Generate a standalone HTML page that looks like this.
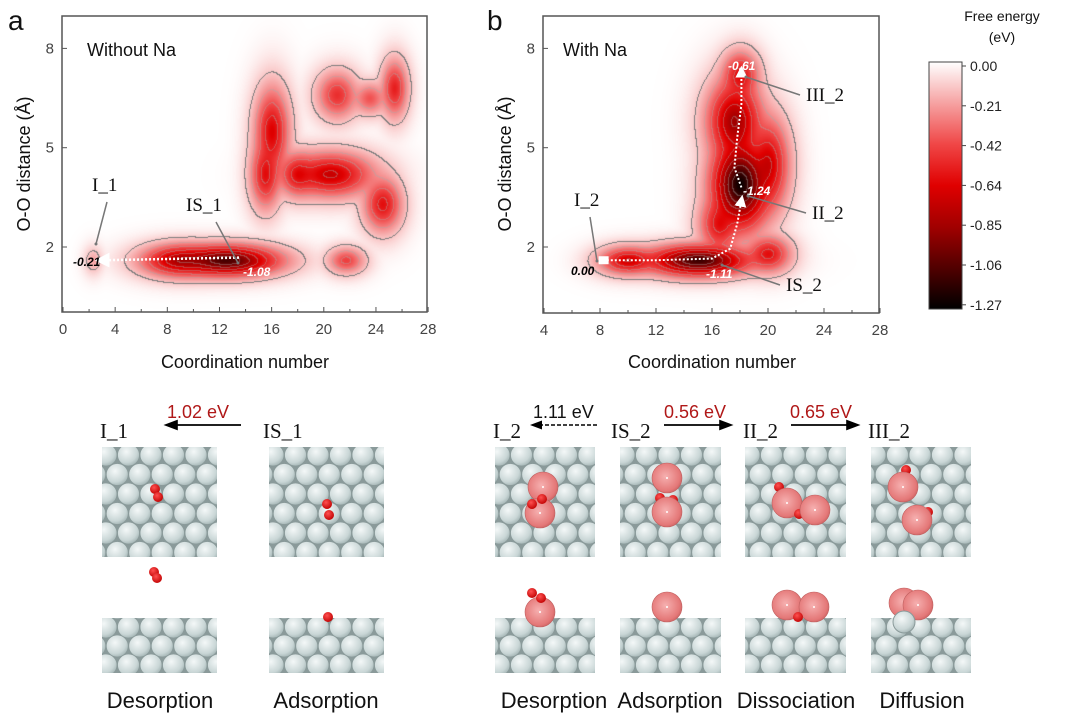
<!DOCTYPE html>
<html><head><meta charset="utf-8">
<style>
body{margin:0;background:#fff;width:1077px;height:725px;overflow:hidden;position:relative;font-family:"Liberation Sans",sans-serif}
canvas{position:absolute}
svg{position:absolute;left:0;top:0}
</style></head><body>
<canvas id="ca"></canvas>
<canvas id="cb"></canvas>
<svg id="s" width="1077" height="725">
<defs>
<linearGradient id="cbar" x1="0" y1="0" x2="0" y2="1">
<stop offset="0" stop-color="#ffffff"/><stop offset="0.165" stop-color="#f6a3a3"/><stop offset="0.33" stop-color="#f04848"/><stop offset="0.5" stop-color="#e00000"/><stop offset="0.67" stop-color="#a00000"/><stop offset="0.835" stop-color="#500000"/><stop offset="1" stop-color="#000000"/>
</linearGradient>
<radialGradient id="ag" cx="0.4" cy="0.35" r="0.7"><stop offset="0" stop-color="#f4f8f8"/><stop offset="0.7" stop-color="#c9d6d6"/><stop offset="1" stop-color="#9fb0b0"/></radialGradient>
<radialGradient id="na" cx="0.45" cy="0.45" r="0.6"><stop offset="0" stop-color="#f6b0b0"/><stop offset="0.8" stop-color="#e47878"/><stop offset="1" stop-color="#c86060"/></radialGradient>
<radialGradient id="ox" cx="0.4" cy="0.35" r="0.7"><stop offset="0" stop-color="#ff5050"/><stop offset="1" stop-color="#c00000"/></radialGradient>
<marker id="wa" markerWidth="6" markerHeight="6" refX="3" refY="3" orient="auto"><path d="M0,0L6,3L0,6z" fill="#fff"/></marker>
<marker id="ka" markerWidth="8" markerHeight="8" refX="6" refY="4" orient="auto"><path d="M0,1L8,4L0,7z" fill="#000"/></marker>
</defs>
<g id="gA"></g><g id="gB"></g><g id="slabs"></g>
</svg>
<script>
const NS="http://www.w3.org/2000/svg";
// ===== data =====
const aBasinX=[12.5,9,21.7,2.3,16,15.5,20.5,24.5,21,25.4,23.5,18];
const aBasinY=[1.6,1.6,1.6,1.6,5.5,4.2,4.2,3.3,6.6,6.8,6.5,4.2];
const aBasinDepth=[-1.08,-0.8,-0.45,-0.21,-0.65,-0.6,-0.72,-0.6,-0.5,-0.55,-0.4,-0.6];
const aBasinSx=[2.6,2.0,1.0,0.5,0.9,0.8,2.2,1.0,1.1,0.7,0.9,1.0];
const aBasinSy=[0.3,0.32,0.28,0.3,0.9,0.7,0.45,0.55,0.5,0.6,0.35,0.45];
const bBasinX=[15,10,20,18,17.6,18,16.5,20];
const bBasinY=[1.6,1.6,1.8,3.9,5.8,7.2,2.7,4.5];
const bBasinDepth=[-1.11,-0.7,-0.6,-1.24,-0.85,-0.61,-0.6,-0.7];
const bBasinSx=[2.4,1.4,1.1,1.3,1.3,0.9,1.0,1.0];
const bBasinSy=[0.3,0.28,0.38,0.85,0.85,0.5,0.6,0.95];
const xTicksA=[0,4,8,12,16,20,24,28];
const xTicksB=[4,8,12,16,20,24,28];
const yTicks=[2,5,8];
const cbarTicks=["0.00","-0.21","-0.42","-0.64","-0.85","-1.06","-1.27"];
const pathB=[[8.2,1.6],[12,1.6],[16,1.65],[17.3,1.95],[17.8,2.7],[18.1,3.4]];
const pathB2=[[18.1,3.8],[17.6,4.4],[17.8,5.3],[18.1,6.3],[18.1,7.3]];
// ===== helpers =====
function el(t,a,p){const e=document.createElementNS(NS,t);for(const k in a)e.setAttribute(k,a[k]);(p||document.getElementById('s')).appendChild(e);return e;}
function txt(x,y,s,a,p){const e=el('text',Object.assign({x:x,y:y},a),p);e.textContent=s;return e;}
const stops=[[0,[255,255,255]],[-0.21,[246,163,163]],[-0.42,[240,72,72]],[-0.64,[224,0,0]],[-0.85,[160,0,0]],[-1.06,[80,0,0]],[-1.27,[0,0,0]]];
function col(E){if(E>=0)return stops[0][1];for(let i=1;i<stops.length;i++){if(E>=stops[i][0]){const t=(E-stops[i-1][0])/(stops[i][0]-stops[i-1][0]);return stops[i-1][1].map((c,j)=>c+(stops[i][1][j]-c)*t);}}return [0,0,0];}
function panel(id,gid,L,T,W,H,x0,xs,bx,by,bd,bsx,bsy){
  const X=v=>L+(v-x0)*xs, Y=v=>247-(v-2)*33.1;
  const cv=document.getElementById(id);cv.width=W;cv.height=H;cv.style.left=L+'px';cv.style.top=T+'px';
  const ctx=cv.getContext('2d');const img=ctx.createImageData(W,H);
  const F=new Float32Array(W*H);
  for(let j=0;j<H;j++)for(let i=0;i<W;i++){
    const vx=x0+i/xs, vy=2-(T+j-247)/33.1;let S=0;
    for(let k=0;k<bx.length;k++){const dx=(vx-bx[k])/bsx[k],dy=(vy-by[k])/bsy[k];const r2=dx*dx+dy*dy;const e=-bd[k]*Math.exp(-0.5*Math.pow(r2,0.85));S+=e*e*e;}
    F[j*W+i]=-Math.min(1.27,Math.cbrt(S));}
  const th=-0.13;
  const lev=E=>Math.floor((E-th)/0.14);
  for(let j=0;j<H;j++)for(let i=0;i<W;i++){
    const E=F[j*W+i];let c=col(E);
    const l=lev(E);
    const inside=E<th;
    if(i<W-1&&j<H-1){
      const a=F[j*W+i+1],b=F[(j+1)*W+i];
      if(inside!==(a<th)||inside!==(b<th))c=[125,125,125];
      else if(inside&&(lev(a)!==l||lev(b)!==l))c=c.map(v=>v*0.6+170*0.4);
    }
    const p=(j*W+i)*4;img.data[p]=c[0];img.data[p+1]=c[1];img.data[p+2]=c[2];img.data[p+3]=255;}
  ctx.putImageData(img,0,0);
  return {X,Y};
}
const A=panel('ca','gA',63,17,363,294,0,13.04,aBasinX,aBasinY,aBasinDepth,aBasinSx,aBasinSy);
const B=panel('cb','gB',544,17,334,295,4,14,bBasinX,bBasinY,bBasinDepth,bBasinSx,bBasinSy);
function axes(g,L,T,R,Bt,X,Y,xt,xTitleX){
  el('rect',{x:L,y:T,width:R-L,height:Bt-T,fill:'none',stroke:'#555','stroke-width':1.5,},g);
  xt.forEach((v,i)=>{el('line',{x1:X(v),y1:Bt,x2:X(v),y2:Bt-5,stroke:'#555'},g);
    if(i<xt.length-1)el('line',{x1:X(v+2),y1:Bt,x2:X(v+2),y2:Bt-3,stroke:'#555'},g);
    const t=txt(X(v),Bt+22,String(v),{'text-anchor':'middle','font-size':15,fill:'#444'},g);});
  yTicks.forEach(v=>{el('line',{x1:L,y1:Y(v),x2:L+5,y2:Y(v),stroke:'#555'},g);
    const t=txt(L-8,Y(v)+5,String(v),{'text-anchor':'end','font-size':15,fill:'#444'},g);});
  const xtT=txt(xTitleX,368,'Coordination number',{'text-anchor':'middle','font-size':18,fill:'#111'},g);
  
  const yt=txt(0,0,'O-O distance (Å)',{'text-anchor':'middle','font-size':18,fill:'#111',transform:`translate(${L-32},164) rotate(-90)`},g);
  
}
const gA=document.getElementById('gA'),gB=document.getElementById('gB');
axes(gA,62,16,427,312,A.X,A.Y,xTicksA,245);
axes(gB,543,16,879,313,B.X,B.Y,xTicksB,712);
txt(8,30,'a',{'font-size':28,fill:'#111',});
txt(487,30,'b',{'font-size':28,fill:'#111',});
txt(87,56,'Without Na',{'font-size':18,fill:'#111',});
txt(563,56,'With Na',{'font-size':18,fill:'#111',});
// path arrows
el('line',{x1:A.X(13.5),y1:A.Y(1.68),x2:A.X(3.0),y2:A.Y(1.6),stroke:'#fff','stroke-width':2.5,'stroke-dasharray':'2 2','marker-end':'url(#wa)',},gA);
const pb=pathB.map(p=>B.X(p[0])+','+B.Y(p[1])).join(' ');
el('polyline',{points:pb,fill:'none',stroke:'#fff','stroke-width':2,'stroke-dasharray':'2 2','marker-end':'url(#wa)',},gB);
const pb2=pathB2.map(p=>B.X(p[0])+','+B.Y(p[1])).join(' ');
el('polyline',{points:pb2,fill:'none',stroke:'#fff','stroke-width':2,'stroke-dasharray':'2 2','marker-end':'url(#wa)',},gB);
el('rect',{x:B.X(7.9),y:B.Y(1.6)-4,width:10,height:8,fill:'#fff'},gB);
// value labels
const vl=(x,y,s,c,g)=>{const t=txt(x,y,s,{'font-size':12,'font-weight':'bold','font-style':'italic',fill:c},g);};
vl(73,266,'-0.21','#000',gA);vl(243,276,'-1.08','#fff',gA);
vl(571,275,'0.00','#000',gB);vl(706,278,'-1.11','#fff',gB);vl(743,195,'-1.24','#fff',gB);vl(728,70,'-0.61','#fff',gB);
// state annotations
function ann(tx,ty,s,x1,y1,x2,y2,g){const t=txt(tx,ty,s,{'font-size':19,'font-family':'Liberation Serif, serif',fill:'#111'},g);
  el('line',{x1:x1,y1:y1,x2:x2,y2:y2,stroke:'#777','stroke-width':1.5},g);el('circle',{cx:x2,cy:y2,r:1.5,fill:'#777'},g);}
ann(92,191,'I_1',107,202,96,244,gA);
ann(186,211,'IS_1',216,222,238,263,gA);
ann(574,206,'I_2',590,217,597,261,gB);
ann(806,101,'III_2',800,95,746,77,gB);
ann(812,219,'II_2',806,213,748,196,gB);
ann(786,291,'IS_2',780,285,722,265,gB);
// colorbar
el('rect',{x:929,y:62,width:33,height:247,fill:'url(#cbar)',stroke:'#444',});
txt(1002,21,'Free energy',{'text-anchor':'middle','font-size':14,fill:'#111',});
txt(1002,42,'(eV)',{'text-anchor':'middle','font-size':14,fill:'#111',});
cbarTicks.forEach((s,i)=>{const y=66+i*39.8;el('line',{x1:962,y1:y,x2:966,y2:y,stroke:'#444'});
  const t=txt(970,y+5,s,{'font-size':14,fill:'#222'});});
// ===== slabs =====
const sg=document.getElementById('slabs');
let cid=0;
function slab(x,y,w,h,side){
  cid++;const cp=el('clipPath',{id:'c'+cid},sg);el('rect',{x:x,y:y,width:w,height:h},cp);
  const g=el('g',{'clip-path':`url(#c${cid})`,},sg);
  el('rect',{x:x,y:y,width:w,height:h,fill:'#8a9a9a'},g);
  const dx=22.5,dy=side?19:19.5;
  for(let r=-1;r*dy<h+dy;r++)for(let c=-1;c*dx<w+dx;c++){
    const cx=x+c*dx+(r%2?dx/2:0)+4,cy=y+r*dy+(side?9:8);
    el('circle',{cx:cx,cy:cy,r:11,fill:'url(#ag)',stroke:'#8a9a9a','stroke-width':0.8},g);}
}
function O(x,y){el('circle',{cx:x,cy:y,r:5,fill:'url(#ox)',},sg);}
function Na(x,y){el('circle',{cx:x,cy:y,r:15,fill:'url(#na)',stroke:'#c06060','stroke-width':0.6,},sg);el('circle',{cx:x,cy:y,r:1,fill:'#fff'},sg);}
[[102,115],[269,115],[495,100],[620,101],[745,101],[871,100]].forEach(b=>{slab(b[0],447,b[1],110,false);slab(b[0],618,b[1],55,true);});
O(155,489);O(158,497);O(154,572);O(157,578);
O(327,504);O(329,515);O(328,617);
Na(543,487);Na(540,513);O(532,504);O(542,499);Na(540,612);O(532,593);O(541,598);
Na(667,478);O(660,498);O(673,500);Na(667,512);Na(667,607);
O(779,487);Na(787,503);O(799,514);Na(815,510);Na(787,605);Na(814,607);O(798,617);
O(906,470);Na(903,487);O(928,512);Na(917,520);Na(904,603);Na(918,605);
el('circle',{cx:904,cy:622,r:11,fill:'url(#ag)',stroke:'#8a9a9a'},sg);
// state row labels
const sl=(x,s)=>{const t=txt(x,438,s,{'font-size':21,'font-family':'Liberation Serif, serif',fill:'#111'},sg);};
sl(100,'I_1');sl(263,'IS_1');sl(493,'I_2');sl(611,'IS_2');sl(743,'II_2');sl(868,'III_2');
const el2=(x,s,c)=>{const t=txt(x,418,s,{'font-size':18,fill:c},sg);};
el2(167,'1.02 eV','#b01818');el2(533,'1.11 eV','#111');el2(664,'0.56 eV','#b01818');el2(790,'0.65 eV','#b01818');
el('line',{x1:241,y1:425,x2:167,y2:425,stroke:'#000','stroke-width':1.8,'marker-end':'url(#ka)',},sg);
el('line',{x1:597,y1:425,x2:533,y2:425,stroke:'#000','stroke-width':1.5,'stroke-dasharray':'4 2','marker-end':'url(#ka)',},sg);
el('line',{x1:664,y1:425,x2:730,y2:425,stroke:'#000','stroke-width':1.8,'marker-end':'url(#ka)',},sg);
el('line',{x1:791,y1:425,x2:857,y2:425,stroke:'#000','stroke-width':1.8,'marker-end':'url(#ka)',},sg);
const pl=(x,s)=>{const t=txt(x,708,s,{'font-size':22,'text-anchor':'middle',fill:'#111'},sg);};
pl(160,'Desorption');pl(326,'Adsorption');pl(554,'Desorption');pl(670,'Adsorption');pl(796,'Dissociation');pl(922,'Diffusion');
</script>
</body></html>
